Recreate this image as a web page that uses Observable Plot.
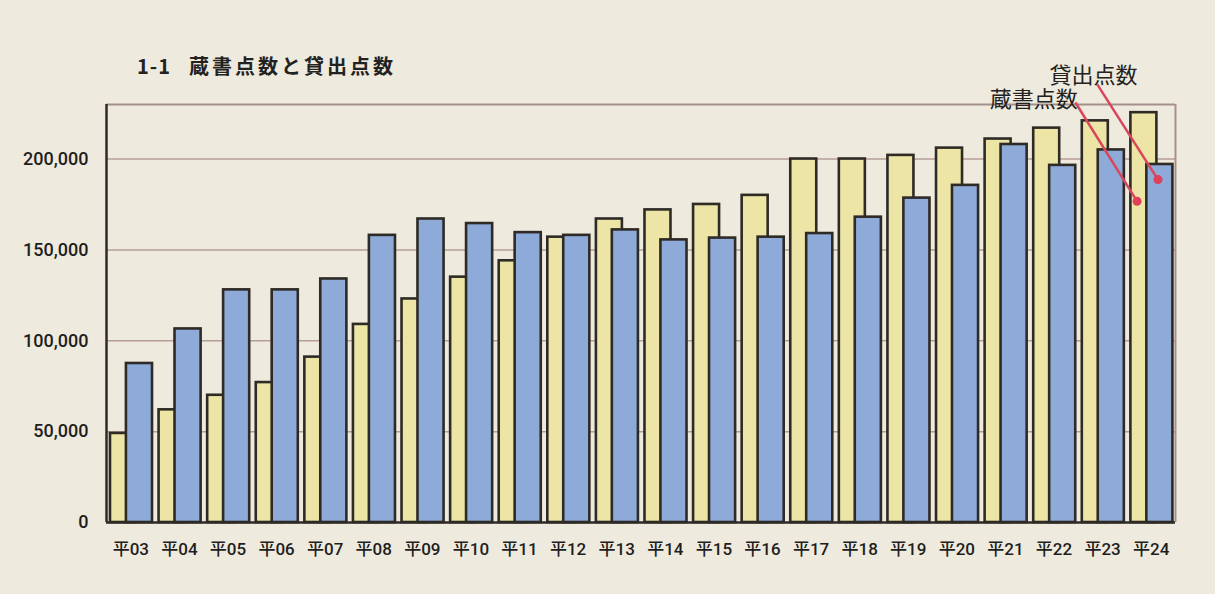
<!DOCTYPE html>
<html>
<head>
<meta charset="utf-8">
<script src="https://cdn.jsdelivr.net/npm/d3@7"></script>
<script src="https://cdn.jsdelivr.net/npm/@observablehq/plot@0.6"></script>
<style>
  html, body { margin: 0; padding: 0; background: #eeeadd; }
  #wrap { position: relative; width: 1215px; height: 594px; overflow: hidden; }
  #title { position: absolute; left: 137px; top: 51px; font-family: "Noto Sans CJK JP", sans-serif; font-weight: 700; font-size: 20px; color: #222; letter-spacing: 3px; white-space: pre; }
  #title .num { letter-spacing: 1px; margin-right: 18px; }
  #chart { position: absolute; left: 0; top: 0; }
</style>
</head>
<body>
<div id="wrap">
  <div id="chart"></div>
  <div id="title"><span class="num">1-1</span>蔵書点数と貸出点数</div>
</div>
<script>
const years = ["平03","平04","平05","平06","平07","平08","平09","平10","平11","平12","平13","平14","平15","平16","平17","平18","平19","平20","平21","平22","平23","平24"];
const zousho = [49000, 62000, 70000, 77000, 91000, 109000, 123000, 135000, 144000, 157000, 167000, 172000, 175000, 180000, 200000, 200000, 202000, 206000, 211000, 217000, 221000, 225500];
const kashidashi = [87500, 106500, 128000, 128000, 134000, 158000, 167000, 164500, 159500, 158000, 161000, 155500, 156500, 157000, 159000, 168000, 178500, 185500, 208000, 196500, 205000, 197000];
const yTicks = [0, 50000, 100000, 150000, 200000];
const yMax = 230000;
// label annotations: text end position, leader line start and dot position
const labelZousho = {name: "蔵書点数", tx: 19.99, ty: 232300, x1: 19.94, y1: 231100, x2: 21.21, y2: 176700};
const labelKashi = {name: "貸出点数", tx: 21.22, ty: 245700, x1: 20.39, y1: 241100, x2: 21.64, y2: 188700};

const rows = years.map((y, i) => ({i, year: y, zousho: zousho[i], kashidashi: kashidashi[i]}));
const labels = [labelZousho, labelKashi];

const chart = Plot.plot({
  width: 1215,
  height: 594,
  marginLeft: 106,
  marginRight: 40,
  marginTop: 104,
  marginBottom: 72,
  style: {background: "transparent", fontFamily: "Roboto, 'Noto Sans CJK JP', sans-serif", color: "#1e1e1e"},
  x: {domain: [0, years.length]},
  y: {domain: [0, yMax]},
  marks: [
    Plot.ruleY(yTicks.filter(d => d > 0), {stroke: "#b69e98", strokeWidth: 1.5}),
    Plot.ruleY([yMax], {stroke: "#a48f8c", strokeWidth: 2}),
    Plot.ruleX([years.length], {stroke: "#a48f8c", strokeWidth: 2}),
    Plot.rectY(rows, {x1: d => d.i + 0.082, x2: d => d.i + 0.617, y: "zousho", fill: "#ece5a5", stroke: "#2e2a26", strokeWidth: 2.6}),
    Plot.rectY(rows, {x1: d => d.i + 0.41, x2: d => d.i + 0.947, y: "kashidashi", fill: "#8eaad8", stroke: "#2e2a26", strokeWidth: 2.6}),
    Plot.ruleX([0], {stroke: "#2e2a26", strokeWidth: 2.5}),
    Plot.ruleY([0], {stroke: "#2e2a26", strokeWidth: 2.5}),
    Plot.axisY({ticks: yTicks, tickFormat: d3.format(","), tickSize: 0, tickPadding: 18, fontSize: 18, fontWeight: 500, label: null}),
    Plot.axisX({ticks: years.map((d, i) => i + 0.5), tickFormat: v => years[Math.floor(v)], tickSize: 0, tickPadding: 20, fontSize: 17, fontWeight: 500, label: null}),
    Plot.link(labels, {x1: "x1", y1: "y1", x2: "x2", y2: "y2", stroke: "#d8465c", strokeWidth: 2.5}),
    Plot.dot(labels, {x: "x2", y: "y2", r: 4.5, fill: "#df3f58"}),
    Plot.text(labels, {x: "tx", y: "ty", text: "name", textAnchor: "end", fontSize: 22, fontFamily: "'Noto Sans CJK JP', sans-serif", fill: "#222"})
  ]
});
document.getElementById("chart").appendChild(chart);
</script>
</body>
</html>
